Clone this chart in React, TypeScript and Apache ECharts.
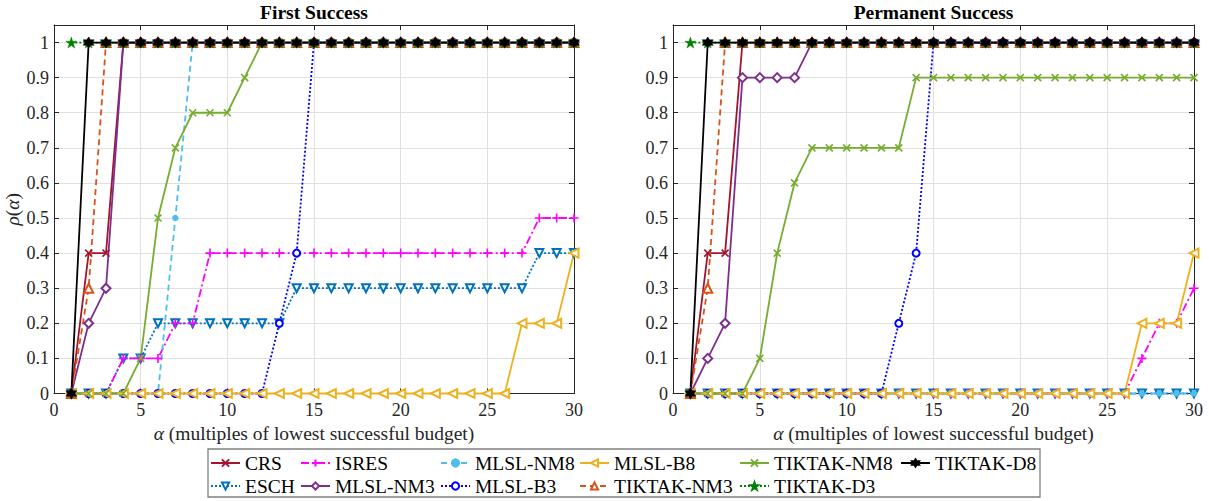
import React, { useEffect, useRef } from 'react';
import * as echarts from 'echarts';

// ---------- DATA ----------
const alpha = [1, 2, 3, 4, 5, 6, 7, 8, 9, 10, 11, 12, 13, 14, 15, 16, 17, 18, 19, 20, 21, 22, 23, 24, 25, 26, 27, 28, 29, 30];

const panelTitles = ['First Success', 'Permanent Success'];
const xTicks = [0, 5, 10, 15, 20, 25, 30];
const yTicks = [0, 0.1, 0.2, 0.3, 0.4, 0.5, 0.6, 0.7, 0.8, 0.9, 1];

const seriesNames = ['CRS', 'ESCH', 'ISRES', 'MLSL-NM3', 'MLSL-NM8', 'MLSL-B3', 'MLSL-B8', 'TIKTAK-NM3', 'TIKTAK-NM8', 'TIKTAK-D3', 'TIKTAK-D8'];

// First Success
const firstCRS = [0, 0.4, 0.4, 1, 1, 1, 1, 1, 1, 1, 1, 1, 1, 1, 1, 1, 1, 1, 1, 1, 1, 1, 1, 1, 1, 1, 1, 1, 1, 1];
const firstESCH = [0, 0, 0, 0.1, 0.1, 0.2, 0.2, 0.2, 0.2, 0.2, 0.2, 0.2, 0.2, 0.3, 0.3, 0.3, 0.3, 0.3, 0.3, 0.3, 0.3, 0.3, 0.3, 0.3, 0.3, 0.3, 0.3, 0.4, 0.4, 0.4];
const firstISRES = [0, 0, 0, 0.1, 0.1, 0.1, 0.2, 0.2, 0.4, 0.4, 0.4, 0.4, 0.4, 0.4, 0.4, 0.4, 0.4, 0.4, 0.4, 0.4, 0.4, 0.4, 0.4, 0.4, 0.4, 0.4, 0.4, 0.5, 0.5, 0.5];
const firstMLSLNM3 = [0, 0.2, 0.3, 1, 1, 1, 1, 1, 1, 1, 1, 1, 1, 1, 1, 1, 1, 1, 1, 1, 1, 1, 1, 1, 1, 1, 1, 1, 1, 1];
const firstMLSLNM8 = [0, 0, 0, 0, 0, 0, 0.5, 1, 1, 1, 1, 1, 1, 1, 1, 1, 1, 1, 1, 1, 1, 1, 1, 1, 1, 1, 1, 1, 1, 1];
const firstMLSLB3 = [0, 0, 0, 0, 0, 0, 0, 0, 0, 0, 0, 0, 0.2, 0.4, 1, 1, 1, 1, 1, 1, 1, 1, 1, 1, 1, 1, 1, 1, 1, 1];
const firstMLSLB8 = [0, 0, 0, 0, 0, 0, 0, 0, 0, 0, 0, 0, 0, 0, 0, 0, 0, 0, 0, 0, 0, 0, 0, 0, 0, 0, 0.2, 0.2, 0.2, 0.4];
const firstTIKTAKNM3 = [0, 0.3, 1, 1, 1, 1, 1, 1, 1, 1, 1, 1, 1, 1, 1, 1, 1, 1, 1, 1, 1, 1, 1, 1, 1, 1, 1, 1, 1, 1];
const firstTIKTAKNM8 = [0, 0, 0, 0, 0.1, 0.5, 0.7, 0.8, 0.8, 0.8, 0.9, 1, 1, 1, 1, 1, 1, 1, 1, 1, 1, 1, 1, 1, 1, 1, 1, 1, 1, 1];
const firstTIKTAKD3 = [1, 1, 1, 1, 1, 1, 1, 1, 1, 1, 1, 1, 1, 1, 1, 1, 1, 1, 1, 1, 1, 1, 1, 1, 1, 1, 1, 1, 1, 1];
const firstTIKTAKD8 = [0, 1, 1, 1, 1, 1, 1, 1, 1, 1, 1, 1, 1, 1, 1, 1, 1, 1, 1, 1, 1, 1, 1, 1, 1, 1, 1, 1, 1, 1];

// Permanent Success
const permCRS = [0, 0.4, 0.4, 1, 1, 1, 1, 1, 1, 1, 1, 1, 1, 1, 1, 1, 1, 1, 1, 1, 1, 1, 1, 1, 1, 1, 1, 1, 1, 1];
const permESCH = [0, 0, 0, 0, 0, 0, 0, 0, 0, 0, 0, 0, 0, 0, 0, 0, 0, 0, 0, 0, 0, 0, 0, 0, 0, 0, 0, 0, 0, 0];
const permISRES = [0, 0, 0, 0, 0, 0, 0, 0, 0, 0, 0, 0, 0, 0, 0, 0, 0, 0, 0, 0, 0, 0, 0, 0, 0, 0, 0.1, 0.2, 0.2, 0.3];
const permMLSLNM3 = [0, 0.1, 0.2, 0.9, 0.9, 0.9, 0.9, 1, 1, 1, 1, 1, 1, 1, 1, 1, 1, 1, 1, 1, 1, 1, 1, 1, 1, 1, 1, 1, 1, 1];
const permMLSLNM8 = [0, 0, 0, 0, 0, 0, 0, 0, 0, 0, 0, 0, 0, 0, 0, 0, 0, 0, 0, 0, 0, 0, 0, 0, 0, 0, 0, 0, 0, 0];
const permMLSLB3 = [0, 0, 0, 0, 0, 0, 0, 0, 0, 0, 0, 0, 0.2, 0.4, 1, 1, 1, 1, 1, 1, 1, 1, 1, 1, 1, 1, 1, 1, 1, 1];
const permMLSLB8 = [0, 0, 0, 0, 0, 0, 0, 0, 0, 0, 0, 0, 0, 0, 0, 0, 0, 0, 0, 0, 0, 0, 0, 0, 0, 0, 0.2, 0.2, 0.2, 0.4];
const permTIKTAKNM3 = [0, 0.3, 1, 1, 1, 1, 1, 1, 1, 1, 1, 1, 1, 1, 1, 1, 1, 1, 1, 1, 1, 1, 1, 1, 1, 1, 1, 1, 1, 1];
const permTIKTAKNM8 = [0, 0, 0, 0, 0.1, 0.4, 0.6, 0.7, 0.7, 0.7, 0.7, 0.7, 0.7, 0.9, 0.9, 0.9, 0.9, 0.9, 0.9, 0.9, 0.9, 0.9, 0.9, 0.9, 0.9, 0.9, 0.9, 0.9, 0.9, 0.9];
const permTIKTAKD3 = [1, 1, 1, 1, 1, 1, 1, 1, 1, 1, 1, 1, 1, 1, 1, 1, 1, 1, 1, 1, 1, 1, 1, 1, 1, 1, 1, 1, 1, 1];
const permTIKTAKD8 = [0, 1, 1, 1, 1, 1, 1, 1, 1, 1, 1, 1, 1, 1, 1, 1, 1, 1, 1, 1, 1, 1, 1, 1, 1, 1, 1, 1, 1, 1];

const firstValues = [firstCRS, firstESCH, firstISRES, firstMLSLNM3, firstMLSLNM8, firstMLSLB3, firstMLSLB8, firstTIKTAKNM3, firstTIKTAKNM8, firstTIKTAKD3, firstTIKTAKD8];
const permValues = [permCRS, permESCH, permISRES, permMLSLNM3, permMLSLNM8, permMLSLB3, permMLSLB8, permTIKTAKNM3, permTIKTAKNM8, permTIKTAKD3, permTIKTAKD8];

// legend columns (column-major like the original)
const legendColumns = [
  ['CRS', 'ESCH'],
  ['ISRES', 'MLSL-NM3'],
  ['MLSL-NM8', 'MLSL-B3'],
  ['MLSL-B8', 'TIKTAK-NM3'],
  ['TIKTAK-NM8', 'TIKTAK-D3'],
  ['TIKTAK-D8'],
];

// ---------- STYLE ----------
const FONT = 'Liberation Serif, Times New Roman, serif';
const AXIS_C = '#262626';

const CROSS = 'path://M0,0L10,10M10,0L0,10';
const PLUS = 'path://M5,0L5,10M0,5L10,5';
const PENTA = 'path://M5,0L6.18,3.62L10,3.62L6.91,5.86L8.09,9.51L5,7.27L1.91,9.51L3.09,5.86L0,3.62L3.82,3.62Z';
const HEXA = 'path://M5,0L6.44,2.5L9.33,2.5L7.89,5L9.33,7.5L6.44,7.5L5,10L3.56,7.5L0.67,7.5L2.11,5L0.67,2.5L3.56,2.5Z';

type St = { color: string; symbol: string; size: number; rotate?: number; dash: any; kind: 'stroke' | 'empty' | 'fill' };
const styles: Record<string, St> = {
  'CRS': { color: '#A2142F', symbol: CROSS, size: 7, dash: 'solid', kind: 'stroke' },
  'ESCH': { color: '#0072BD', symbol: 'emptyTriangle', rotate: 180, size: 8, dash: [2, 2], kind: 'empty' },
  'ISRES': { color: '#FF00FF', symbol: PLUS, size: 9, dash: [8, 3, 2, 3], kind: 'stroke' },
  'MLSL-NM3': { color: '#7E2F8E', symbol: 'emptyDiamond', size: 9, dash: 'solid', kind: 'empty' },
  'MLSL-NM8': { color: '#4DBEEE', symbol: 'circle', size: 6, dash: [6, 4], kind: 'fill' },
  'MLSL-B3': { color: '#0000FF', symbol: 'emptyCircle', size: 7, dash: [2, 2], kind: 'empty' },
  'MLSL-B8': { color: '#EDB120', symbol: 'emptyTriangle', rotate: 90, size: 9, dash: 'solid', kind: 'empty' },
  'TIKTAK-NM3': { color: '#D95319', symbol: 'emptyTriangle', size: 9, dash: [6, 4], kind: 'empty' },
  'TIKTAK-NM8': { color: '#77AC30', symbol: CROSS, size: 7, dash: 'solid', kind: 'stroke' },
  'TIKTAK-D3': { color: '#008000', symbol: PENTA, size: 11, dash: [2, 2], kind: 'fill' },
  'TIKTAK-D8': { color: '#000000', symbol: HEXA, size: 11, dash: 'solid', kind: 'fill' },
};

const grids = [
  { left: 54, top: 25, width: 520, height: 368.5 },
  { left: 673, top: 25, width: 521, height: 368.5 },
];

function makeSeries(name: string, values: number[], panel: number) {
  const s = styles[name];
  return {
    type: 'line',
    name,
    xAxisIndex: panel * 2,
    yAxisIndex: panel * 2,
    data: alpha.map((a, i) => [a, values[i]]),
    symbol: s.symbol,
    symbolSize: s.size,
    symbolRotate: s.rotate || 0,
    showSymbol: true,
    showAllSymbol: true,
    clip: false,
    lineStyle: { color: s.color, width: 1.8, type: s.dash },
    itemStyle: {
      color: s.color,
      borderColor: s.color,
      borderWidth: s.kind === 'fill' ? 0.5 : 1.6,
    },
    emphasis: { disabled: true },
  };
}

export default function App() {
  const ref = useRef<HTMLDivElement>(null);
  useEffect(() => {
    if (!ref.current) return;
    const chart = echarts.init(ref.current, undefined, { renderer: 'svg' });

    const xAxes: any[] = [];
    const yAxes: any[] = [];
    grids.forEach((g, gi) => {
      xAxes.push({
        type: 'value', gridIndex: gi, min: xTicks[0], max: xTicks[xTicks.length - 1], interval: 5, position: 'bottom',
        axisLine: { show: true, onZero: false, lineStyle: { color: AXIS_C, width: 1 } },
        axisTick: { show: true, inside: true, length: 5, lineStyle: { color: AXIS_C } },
        axisLabel: { color: AXIS_C, fontFamily: FONT, fontSize: 18, margin: 7 },
        splitLine: { show: true, lineStyle: { color: '#e0e0e0', width: 1 } },
        name: '{a|α} (multiples of lowest successful budget)',
        nameLocation: 'middle', nameGap: 24,
        nameTextStyle: {
          fontFamily: FONT, fontSize: 19.5, color: AXIS_C,
          rich: { a: { fontFamily: FONT, fontSize: 19.5, fontStyle: 'italic', color: AXIS_C } },
        },
      });
      xAxes.push({
        type: 'value', gridIndex: gi, min: xTicks[0], max: xTicks[xTicks.length - 1], interval: 5, position: 'top',
        axisLine: { show: true, onZero: false, lineStyle: { color: AXIS_C, width: 1 } },
        axisTick: { show: true, inside: true, length: 5, lineStyle: { color: AXIS_C } },
        axisLabel: { show: false }, splitLine: { show: false },
      });
      yAxes.push({
        type: 'value', gridIndex: gi, min: yTicks[0], max: 1.05, interval: 0.1, position: 'left',
        axisLine: { show: true, onZero: false, lineStyle: { color: AXIS_C, width: 1 } },
        axisTick: { show: true, inside: true, length: 5, lineStyle: { color: AXIS_C } },
        axisLabel: { color: AXIS_C, fontFamily: FONT, fontSize: 18, margin: 5, showMaxLabel: false },
        splitLine: { show: true, lineStyle: { color: '#e0e0e0', width: 1 } },
        ...(gi === 0 ? {
          name: '{a|ρ}({a|α})', nameLocation: 'middle', nameGap: 26, nameRotate: 90,
          nameTextStyle: {
            fontFamily: FONT, fontSize: 19.5, color: AXIS_C,
            rich: { a: { fontFamily: FONT, fontSize: 19.5, fontStyle: 'italic', color: AXIS_C } },
          },
        } : {}),
      });
      yAxes.push({
        type: 'value', gridIndex: gi, min: yTicks[0], max: 1.05, interval: 0.1, position: 'right',
        axisLine: { show: true, onZero: false, lineStyle: { color: AXIS_C, width: 1 } },
        axisTick: { show: true, inside: true, length: 5, lineStyle: { color: AXIS_C } },
        axisLabel: { show: false }, splitLine: { show: false },
      });
    });

    const series: any[] = [];
    seriesNames.forEach((n, i) => series.push(makeSeries(n, firstValues[i], 0)));
    seriesNames.forEach((n, i) => series.push(makeSeries(n, permValues[i], 1)));

    const colX = [210, 300, 440, 579, 739, 900];
    const legends = legendColumns.map((names, i) => ({
      data: names,
      orient: 'vertical',
      left: colX[i],
      top: 453,
      padding: 0,
      itemGap: 3,
      itemWidth: 29,
      itemHeight: 9,
      selectedMode: false,
      textStyle: { fontFamily: FONT, fontSize: 19.5, color: '#000', lineHeight: 20 },
    }));

    const option: any = {
      animation: false,
      backgroundColor: '#fff',
      grid: grids,
      xAxis: xAxes,
      yAxis: yAxes,
      legend: legends,
      series,
      graphic: [
        {
          type: 'rect', z: 0,
          shape: { x: 208, y: 449, width: 832, height: 48 },
          style: { fill: 'none', stroke: '#808080', lineWidth: 1.3 },
        },
        ...panelTitles.map((t, i) => ({
          type: 'text',
          x: grids[i].left + grids[i].width / 2,
          y: 2,
          style: {
            text: t, textAlign: 'center', textVerticalAlign: 'top',
            fontFamily: FONT, fontSize: 19.5, fontWeight: 'bold', fill: '#000',
          },
        })),
      ],
    };
    chart.setOption(option);
    return () => chart.dispose();
  }, []);
  return <div ref={ref} style={{ position: 'fixed', left: 0, top: 0, width: 1209, height: 501 }} />;
}
